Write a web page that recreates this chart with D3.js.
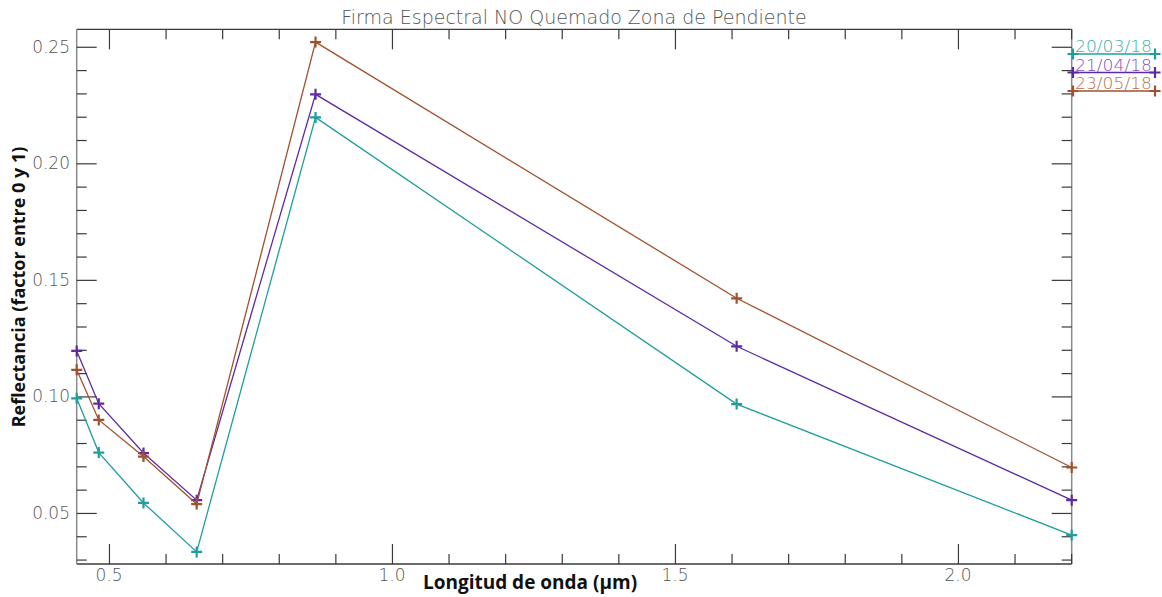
<!DOCTYPE html>
<html>
<head>
<meta charset="utf-8">
<script src="https://cdn.jsdelivr.net/npm/d3@7"></script>
<style>
  html, body { margin: 0; padding: 0; background: #fff; }
  svg { display: block; }
</style>
</head>
<body>
<svg id="chart" width="1162" height="597"></svg>
<script>
// ---- data ----
const wavelengths = [0.443, 0.482, 0.561, 0.655, 0.865, 1.609, 2.201];
const serie1 = [0.0992, 0.0759, 0.0543, 0.0333, 0.2197, 0.0967, 0.0405]; // 20/03/18
const serie2 = [0.1195, 0.0969, 0.0757, 0.0555, 0.2296, 0.1215, 0.0555]; // 21/04/18
const serie3 = [0.1114, 0.0899, 0.0742, 0.0538, 0.2520, 0.1421, 0.0695]; // 23/05/18
const seriesNames = ["20/03/18", "21/04/18", "23/05/18"];
const xMajorTicks = [0.5, 1.0, 1.5, 2.0];
const xMinorTicks = [0.6, 0.7, 0.8, 0.9, 1.1, 1.2, 1.3, 1.4, 1.6, 1.7, 1.8, 1.9, 2.1, 2.2];
const yMajorTicks = [0.05, 0.10, 0.15, 0.20, 0.25];
const yMinorTicks = [0.03, 0.04, 0.06, 0.07, 0.08, 0.09, 0.11, 0.12, 0.13, 0.14, 0.16, 0.17, 0.18, 0.19, 0.21, 0.22, 0.23, 0.24];

const title = "Firma Espectral NO Quemado Zona de Pendiente";
const xTitle = "Longitud de onda (µm)";
const yTitle = "Reflectancia (factor entre 0 y 1)";

// ---- styling ----
const lineColors = ["#1f9e9e", "#5e2aa3", "#a0522d"];
const textColors = ["#3aaea8", "#8750c0", "#b5714c"];

const L = 76.7, R = 1071.7, T = 29.3, B = 564;
const svg = d3.select("#chart");

const x = d3.scaleLinear().domain([0.443, 2.201]).range([L, R]);
const y = d3.scaleLinear().domain([0.0281, 0.2575]).range([B, T]);

const tickFont = "'DejaVu Sans', sans-serif";
const axisColor = "#3a3a3a";

// frame lines
svg.append("line").attr("x1", L).attr("x2", R).attr("y1", B).attr("y2", B).attr("stroke", axisColor).attr("stroke-width", 1.3);
svg.append("line").attr("x1", L).attr("x2", R).attr("y1", T).attr("y2", T).attr("stroke", axisColor).attr("stroke-width", 1.3);
svg.append("line").attr("x1", L).attr("x2", L).attr("y1", T).attr("y2", B).attr("stroke", "#8a8a8a").attr("stroke-width", 1.5);
svg.append("line").attr("x1", R).attr("x2", R).attr("y1", T).attr("y2", B).attr("stroke", "#8a8a8a").attr("stroke-width", 1.5);

// axes via d3 axis generators (inner ticks)
function styleAxis(g) {
  g.select(".domain").remove();
  g.selectAll(".tick line").attr("stroke", axisColor).attr("stroke-width", 1.2);
}
svg.append("g").attr("transform", `translate(0,${B})`)
  .call(d3.axisTop(x).tickValues(xMajorTicks).tickSize(20).tickFormat(""))
  .call(styleAxis);
svg.append("g").attr("transform", `translate(0,${B})`)
  .call(d3.axisTop(x).tickValues(xMinorTicks).tickSize(10).tickFormat(""))
  .call(styleAxis);
svg.append("g").attr("transform", `translate(0,${T})`)
  .call(d3.axisBottom(x).tickValues(xMajorTicks).tickSize(20).tickFormat(""))
  .call(styleAxis);
svg.append("g").attr("transform", `translate(0,${T})`)
  .call(d3.axisBottom(x).tickValues(xMinorTicks).tickSize(10).tickFormat(""))
  .call(styleAxis);
svg.append("g").attr("transform", `translate(${L},0)`)
  .call(d3.axisRight(y).tickValues(yMajorTicks).tickSize(20).tickFormat(""))
  .call(styleAxis);
svg.append("g").attr("transform", `translate(${L},0)`)
  .call(d3.axisRight(y).tickValues(yMinorTicks).tickSize(10).tickFormat(""))
  .call(styleAxis);
svg.append("g").attr("transform", `translate(${R},0)`)
  .call(d3.axisLeft(y).tickValues(yMajorTicks).tickSize(20).tickFormat(""))
  .call(styleAxis);
svg.append("g").attr("transform", `translate(${R},0)`)
  .call(d3.axisLeft(y).tickValues(yMinorTicks).tickSize(10).tickFormat(""))
  .call(styleAxis);

// tick labels
svg.append("g").selectAll("text").data(xMajorTicks).join("text")
  .attr("x", d => x(d)).attr("y", 581)
  .attr("text-anchor", "middle")
  .attr("font-family", tickFont).attr("font-weight", 200).attr("font-size", 17)
  .attr("fill", "#555")
  .text(d => d3.format(".1f")(d));
svg.append("g").selectAll("text").data(yMajorTicks).join("text")
  .attr("x", 70).attr("y", d => y(d) + 6)
  .attr("text-anchor", "end")
  .attr("font-family", tickFont).attr("font-weight", 200).attr("font-size", 17)
  .attr("fill", "#555")
  .text(d => d3.format(".2f")(d));

// title
svg.append("text").attr("x", 574).attr("y", 24)
  .attr("text-anchor", "middle")
  .attr("font-family", tickFont).attr("font-weight", 200).attr("font-size", 19)
  .attr("fill", "#555")
  .text(title);

// axis titles
svg.append("text").attr("x", 530).attr("y", 589)
  .attr("text-anchor", "middle")
  .attr("font-family", "'Open Sans', sans-serif").attr("font-weight", 700).attr("font-size", 19)
  .attr("fill", "#111")
  .text(xTitle);
svg.append("text").attr("transform", "translate(25,287) rotate(-90)")
  .attr("text-anchor", "middle")
  .attr("font-family", "'Open Sans', sans-serif").attr("font-weight", 700).attr("font-size", 18)
  .attr("fill", "#111")
  .text(yTitle);

// series
const allSeries = [serie1, serie2, serie3];
const line = d3.line().x(d => x(d[0])).y(d => y(d[1]));
function plus(g, cx, cy, color, s) {
  g.append("path")
    .attr("d", `M${cx - s},${cy}H${cx + s}M${cx},${cy - s}V${cy + s}`)
    .attr("stroke", color).attr("stroke-width", 2.2).attr("fill", "none");
}
allSeries.forEach((vals, i) => {
  const pts = wavelengths.map((w, k) => [w, vals[k]]);
  const g = svg.append("g");
  g.append("path").datum(pts).attr("d", line)
    .attr("fill", "none").attr("stroke", lineColors[i]).attr("stroke-width", 1.3);
  pts.forEach(p => plus(g, x(p[0]), y(p[1]), lineColors[i], 5.5));
});

// legend
const legendY = [54, 72.5, 91];
seriesNames.forEach((name, i) => {
  const g = svg.append("g");
  g.append("line").attr("x1", 1073).attr("x2", 1155).attr("y1", legendY[i]).attr("y2", legendY[i])
    .attr("stroke", lineColors[i]).attr("stroke-width", 1.3);
  plus(g, 1073, legendY[i], lineColors[i], 5.5);
  plus(g, 1155, legendY[i], lineColors[i], 5.5);
  g.append("text").attr("x", 1075).attr("y", legendY[i] - 2)
    .attr("font-family", tickFont).attr("font-weight", 200).attr("font-size", 15)
    .attr("textLength", 77).attr("lengthAdjust", "spacingAndGlyphs")
    .attr("fill", textColors[i])
    .text(name);
});
</script>
</body>
</html>
